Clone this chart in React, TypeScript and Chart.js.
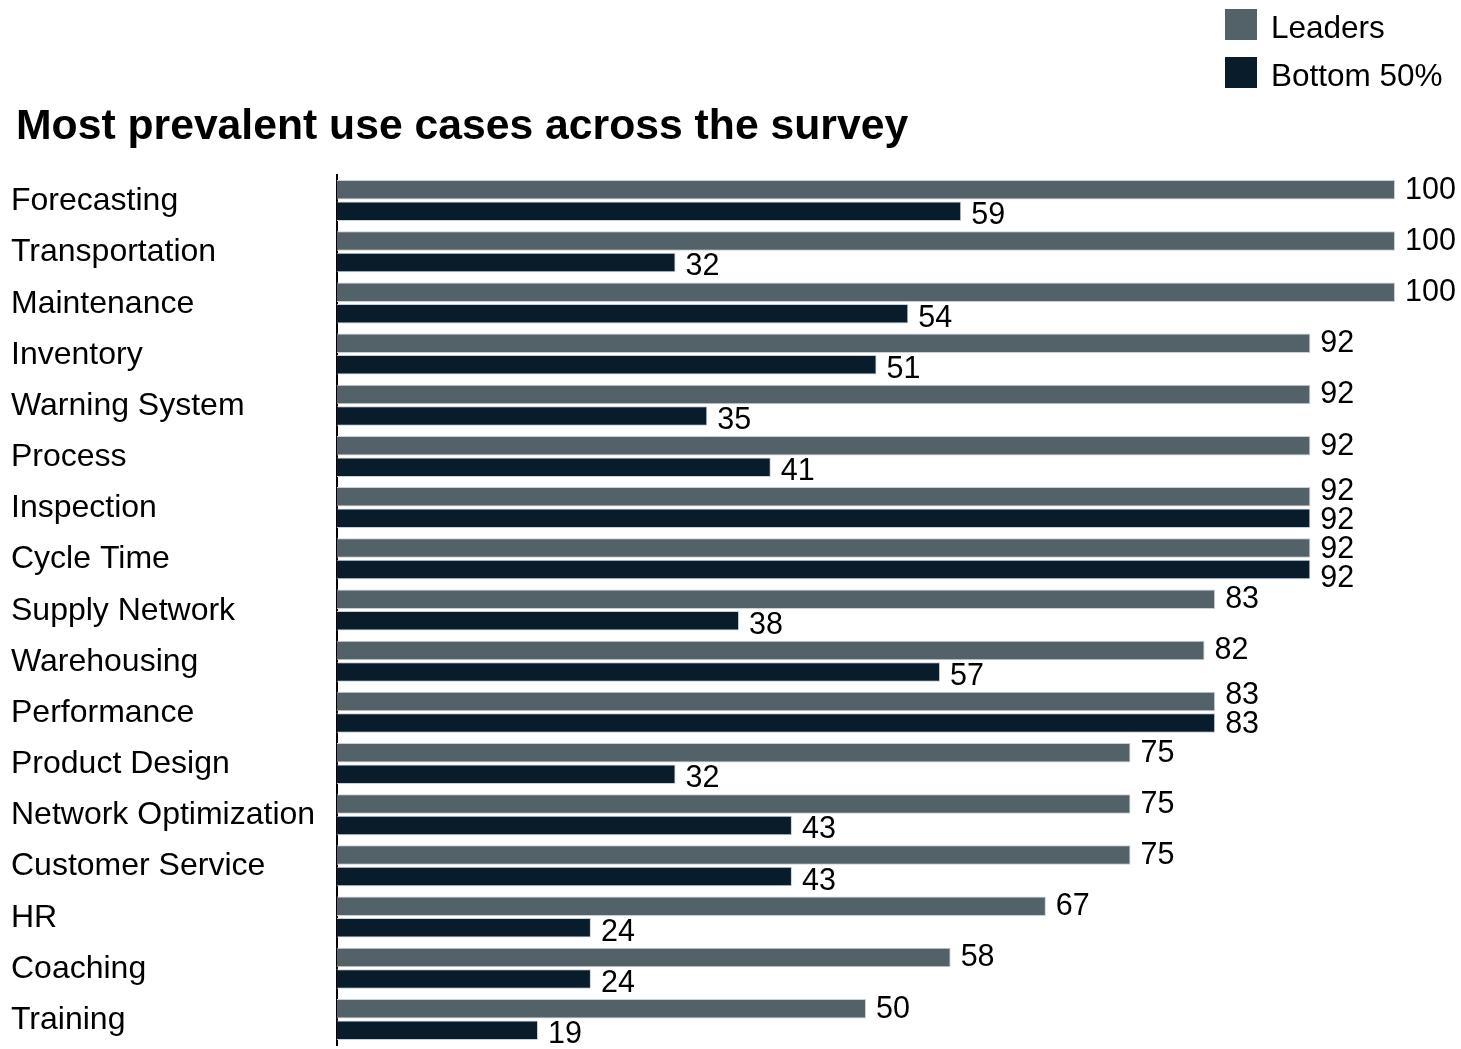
import React, { useEffect, useRef } from "react";
import { Chart, registerables } from "chart.js";

Chart.register(...registerables);

const categories = [
  "Forecasting",
  "Transportation",
  "Maintenance",
  "Inventory",
  "Warning System",
  "Process",
  "Inspection",
  "Cycle Time",
  "Supply Network",
  "Warehousing",
  "Performance",
  "Product Design",
  "Network Optimization",
  "Customer Service",
  "HR",
  "Coaching",
  "Training",
];
const leadersValues = [100, 100, 100, 92, 92, 92, 92, 92, 83, 82, 83, 75, 75, 75, 67, 58, 50];
const bottomValues = [59, 32, 54, 51, 35, 41, 92, 92, 38, 57, 83, 32, 43, 43, 24, 24, 19];
const seriesNames = ["Leaders", "Bottom 50%"];
const seriesColors = ["#536169", "#081c2b"];
const titleText = "Most prevalent use cases across the survey";

const FONT = '"Liberation Sans", Arial, Helvetica, sans-serif';

type Lbl = { text: string; x: number; y: number; w: number };

const valueLabelPlugin = {
  id: "valueLabels",
  afterLayout(chart: any) {
    const t = chart.titleBlock;
    if (t) {
      t.left += 5;
    }
  },
  afterDatasetsDraw(chart: any) {
    const ctx = chart.ctx;
    const m0 = chart.getDatasetMeta(0);
    const m1 = chart.getDatasetMeta(1);
    const minGap = 29;
    ctx.save();
    ctx.font = `30.5px ${FONT}`;
    ctx.fillStyle = "#000";
    ctx.textAlign = "left";
    ctx.textBaseline = "middle";
    const placed: Lbl[] = [];
    const hOverlap = (a: Lbl, b: Lbl) => a.x < b.x + b.w && b.x < a.x + a.w;
    m0.data.forEach((bar0: any, i: number) => {
      const bar1 = m1.data[i];
      const t0 = String(chart.data.datasets[0].data[i]);
      const t1 = String(chart.data.datasets[1].data[i]);
      const l0: Lbl = { text: t0, x: bar0.x + 10, y: 0, w: ctx.measureText(t0).width };
      const l1: Lbl = { text: t1, x: bar1.x + 10, y: 0, w: ctx.measureText(t1).width };
      if (hOverlap(l0, l1)) {
        const mid = (bar0.y + bar1.y) / 2 - 2;
        l0.y = mid - minGap / 2;
        l1.y = mid + minGap / 2;
      } else {
        l0.y = bar0.y + 0.5;
        l1.y = bar1.y + 4.5;
      }
      let shift = 0;
      for (const p of placed) {
        for (const l of [l0, l1]) {
          if (hOverlap(p, l) && l.y - p.y < minGap) {
            shift = Math.max(shift, minGap - (l.y - p.y));
          }
        }
      }
      l0.y += shift;
      l1.y += shift;
      placed.push(l0, l1);
    });
    for (const l of placed) ctx.fillText(l.text, l.x, l.y);
    ctx.restore();
  },
};

export default function App() {
  const canvasRef = useRef<HTMLCanvasElement | null>(null);

  useEffect(() => {
    const canvas = canvasRef.current;
    if (!canvas) return;
    const chart = new Chart(canvas, {
      type: "bar",
      data: {
        labels: categories,
        datasets: [
          {
            label: seriesNames[0],
            data: leadersValues,
            backgroundColor: seriesColors[0],
            borderColor: "#c9d0d5",
            borderWidth: 1,
            borderSkipped: "left",
            categoryPercentage: 0.84,
            barPercentage: 0.907,
          },
          {
            label: seriesNames[1],
            data: bottomValues,
            backgroundColor: seriesColors[1],
            borderColor: "#c9d0d5",
            borderWidth: 1,
            borderSkipped: "left",
            categoryPercentage: 0.84,
            barPercentage: 0.907,
          },
        ],
      },
      options: {
        indexAxis: "y",
        responsive: false,
        animation: false,
        layout: { padding: { left: 11, right: 66, top: 0, bottom: 4 } },
        plugins: {
          legend: { display: false },
          tooltip: { enabled: false },
          title: {
            display: true,
            text: titleText,
            align: "start",
            color: "#000",
            font: { family: FONT, size: 42.7, weight: "bold", lineHeight: 1.2 },
            padding: { top: 101.5, bottom: 22.2 },
          },
        },
        scales: {
          x: { min: 0, max: 100, display: false },
          y: {
            grid: { display: false, drawTicks: false },
            border: { display: true, color: "#000", width: 2 },
            ticks: {
              crossAlign: "far",
              color: "#000",
              padding: 0,
              labelOffset: 0.8,
              font: { family: FONT, size: 32 },
            },
            afterFit(scale: any) {
              scale.width = 326;
              scale.paddingTop = 0;
              scale.paddingBottom = 0;
            },
          },
        },
      },
      plugins: [valueLabelPlugin],
    } as any);
    return () => chart.destroy();
  }, []);

  const legendItem = (i: number, top: number) => (
    <div
      key={i}
      style={{
        position: "absolute",
        left: 1225,
        top,
        height: 32,
        display: "flex",
        alignItems: "center",
        whiteSpace: "nowrap",
      }}
    >
      <span
        style={{
          display: "inline-block",
          width: 32,
          height: 31,
          background: seriesColors[i],
          marginRight: 14,
        }}
      />
      <span
        style={{
          font: `31.5px ${FONT}`,
          color: "#000",
          lineHeight: "32px",
          position: "relative",
          top: 3,
        }}
      >
        {seriesNames[i]}
      </span>
    </div>
  );

  return (
    <div
      style={{
        position: "absolute",
        left: 0,
        top: 0,
        width: 1461,
        height: 1049,
        overflow: "hidden",
        background: "#fff",
      }}
    >
      <canvas ref={canvasRef} width={1461} height={1049} style={{ display: "block", width: 1461, height: 1049 }} />
      {legendItem(0, 8)}
      {legendItem(1, 56)}
    </div>
  );
}
